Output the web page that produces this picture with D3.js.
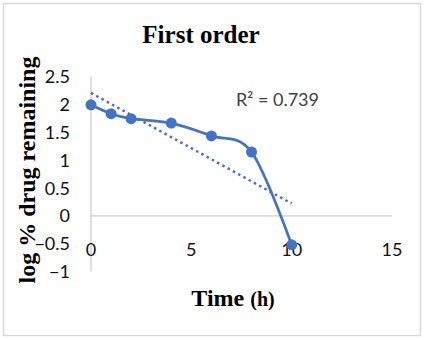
<!DOCTYPE html>
<html>
<head>
<meta charset="utf-8">
<script src="https://cdn.jsdelivr.net/npm/d3@7"></script>
<style>
  body { margin: 0; background: #fff; }
  svg text { font-family: Lato, "Open Sans", sans-serif; }
</style>
</head>
<body>
<div id="chart"></div>
<script>
// time (h) and log % drug remaining
var times = [0, 1, 2, 4, 6, 8, 10];
var logRemaining = [2.0, 1.84, 1.75, 1.67, 1.44, 1.15, -0.52];
var xTicks = [0, 5, 10, 15];
var yTicks = [-1, -0.5, 0, 0.5, 1, 1.5, 2, 2.5];
var rSquaredLabel = "R\u00b2 = 0.739";

var width = 424, height = 340;
var blue = "#4472c4";
var serif = "'Liberation Serif', 'Times New Roman', serif";

var svg = d3.select("#chart").append("svg")
    .attr("width", width)
    .attr("height", height);

// outer chart border
svg.append("rect")
    .attr("x", 3.5).attr("y", 3.5)
    .attr("width", 417).attr("height", 332)
    .attr("fill", "#fff")
    .attr("stroke", "#d9d9d9")
    .attr("stroke-width", 1.5);

var x = d3.scaleLinear().domain([0, 15]).range([91, 392]);
var y = d3.scaleLinear().domain([-1, 2.5]).range([271.5, 77]);

// axis lines (no gridlines in the original)
svg.append("line")
    .attr("x1", x(0)).attr("x2", x(0))
    .attr("y1", y(2.5)).attr("y2", y(-1))
    .attr("stroke", "#bfbfbf").attr("stroke-width", 1);
svg.append("line")
    .attr("x1", x(0)).attr("x2", x(15))
    .attr("y1", y(0)).attr("y2", y(0))
    .attr("stroke", "#bfbfbf").attr("stroke-width", 1);

// tick labels
svg.append("g").selectAll("text")
    .data(yTicks).enter().append("text")
    .attr("x", 70)
    .attr("y", function(d) { return y(d); })
    .attr("dy", "0.36em")
    .attr("text-anchor", "end")
    .attr("font-size", 18)
    .attr("fill", "#111")
    .text(function(d) { return d3.format("")(d); });

svg.append("g").selectAll("text")
    .data(xTicks).enter().append("text")
    .attr("x", function(d) { return x(d); })
    .attr("y", 250)
    .attr("dy", "0.36em")
    .attr("text-anchor", "middle")
    .attr("font-size", 18)
    .attr("fill", "#111")
    .text(function(d) { return d; });

// linear trendline through the points
var mx = d3.mean(times), my = d3.mean(logRemaining);
var sxy = d3.sum(times, function(t, i) { return (t - mx) * (logRemaining[i] - my); });
var sxx = d3.sum(times, function(t) { return (t - mx) * (t - mx); });
var slope = sxy / sxx, intercept = my - slope * mx;
var tEnd = d3.max(times);

svg.append("line")
    .attr("x1", x(0)).attr("y1", y(intercept))
    .attr("x2", x(tEnd)).attr("y2", y(intercept + slope * tEnd))
    .attr("stroke", blue)
    .attr("stroke-width", 2.5)
    .attr("stroke-dasharray", "2.5,3.5");

// smoothed data line
var pts = times.map(function(t, i) { return [t, logRemaining[i]]; });
var line = d3.line()
    .x(function(d) { return x(d[0]); })
    .y(function(d) { return y(d[1]); })
    .curve(d3.curveCardinal.tension(0));

svg.append("path")
    .datum(pts)
    .attr("d", line)
    .attr("fill", "none")
    .attr("stroke", blue)
    .attr("stroke-width", 2.75);

svg.append("g").selectAll("circle")
    .data(pts).enter().append("circle")
    .attr("cx", function(d) { return x(d[0]); })
    .attr("cy", function(d) { return y(d[1]); })
    .attr("r", 5.5)
    .attr("fill", blue);

// R squared label
svg.append("text")
    .attr("x", 236).attr("y", 106)
    .attr("font-size", 18)
    .attr("fill", "#404040")
    .text(rSquaredLabel);

// titles
svg.append("text")
    .attr("x", 201).attr("y", 43)
    .attr("text-anchor", "middle")
    .style("font-family", serif)
    .attr("font-weight", "bold")
    .attr("font-size", 25)
    .text("First order");

var xt = svg.append("text")
    .attr("x", 233).attr("y", 306)
    .attr("text-anchor", "middle")
    .style("font-family", serif)
    .attr("font-weight", "bold");
xt.append("tspan").attr("font-size", 24).text("Time ");
xt.append("tspan").attr("font-size", 20).text("(h)");

svg.append("text")
    .attr("transform", "translate(35,170) rotate(-90)")
    .attr("text-anchor", "middle")
    .style("font-family", serif)
    .attr("font-weight", "bold")
    .attr("font-size", 24)
    .text("log % drug remaining");
</script>
</body>
</html>
